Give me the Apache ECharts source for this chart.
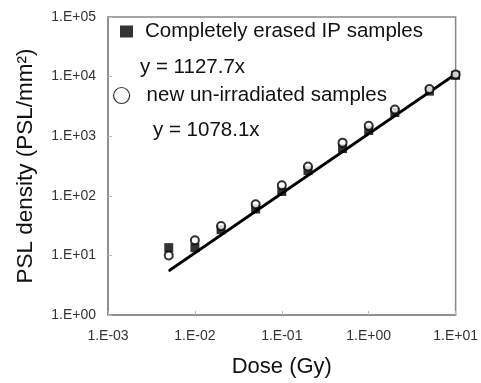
<!DOCTYPE html>
<html>
<head>
<meta charset="utf-8">
<script src="https://cdn.jsdelivr.net/npm/echarts@6/dist/echarts.min.js"></script>
<style>html,body{margin:0;padding:0;background:#fff;}#c{width:481px;height:383px;}</style>
</head>
<body>
<div id="c"></div>
<script>
const doses = [0.005, 0.01, 0.02, 0.05, 0.1, 0.2, 0.5, 1, 2, 5, 10];
const erasedPSL = [13.5, 13.5, 27, 60, 118, 265, 620, 1250, 2500, 5700, 10500];
const newPSL = [10, 18, 31, 72, 150, 310, 780, 1500, 2800, 6200, 10800];
const fitDose = [0.005, 10];
const fitErased = [5.64, 11277];
const fitNew = [5.39, 10781];
const nameErased = 'Completely erased IP samples';
const nameNew = 'new un-irradiated samples';
const eqErased = 'y = 1127.7x';
const eqNew = 'y = 1078.1x';
const xTitle = 'Dose (Gy)';
const yTitle = 'PSL density (PSL/mm²)';

function fmt(v) {
  const e = Math.round(Math.log10(v));
  return '1.E' + (e < 0 ? '-' : '+') + String(Math.abs(e)).padStart(2, '0');
}
const pair = (xs, ys) => xs.map((x, i) => [x, ys[i]]);
const FONT = '"Liberation Sans", Arial, sans-serif';

const chart = echarts.init(document.getElementById('c'), null, {renderer: 'canvas'});
chart.setOption({
  animation: false,
  backgroundColor: '#fff',
  grid: {left: 108, right: 22, top: 17, bottom: 65, show: true, borderColor: '#888', borderWidth: 1.5},
  xAxis: {
    type: 'log', logBase: 10, min: 0.001, max: 10,
    name: xTitle, nameLocation: 'middle', nameGap: 41,
    nameTextStyle: {fontSize: 22, fontFamily: FONT, color: '#111'},
    axisLine: {show: true, lineStyle: {color: '#888', width: 1.5}},
    axisTick: {show: true, inside: true, length: 4, lineStyle: {color: '#bbb'}},
    axisLabel: {formatter: fmt, fontSize: 14, fontFamily: FONT, color: '#333', margin: 14},
    splitLine: {show: false}, minorTick: {show: false}
  },
  yAxis: {
    type: 'log', logBase: 10, min: 1, max: 100000,
    name: yTitle, nameLocation: 'middle', nameGap: 71, nameRotate: 90,
    nameTextStyle: {fontSize: 22.5, fontFamily: FONT, color: '#111'},
    axisLine: {show: true, lineStyle: {color: '#888', width: 1.5}},
    axisTick: {show: true, inside: true, length: 4, lineStyle: {color: '#bbb'}},
    axisLabel: {formatter: fmt, fontSize: 14, fontFamily: FONT, color: '#333', margin: 12},
    splitLine: {show: false}, minorTick: {show: false}
  },
  legend: [
    {data: [nameErased], left: 120, top: 21, padding: 0, itemWidth: 13, itemHeight: 12,
     itemStyle: {color: '#000'},
     textStyle: {fontSize: 20.5, fontFamily: FONT, color: '#111', padding: [0, 0, 0, 7]}},
    {data: [nameNew], left: 113, top: 85, padding: 0, itemWidth: 16, itemHeight: 16,
     itemStyle: {color: '#fff', borderColor: '#000', borderWidth: 1.2},
     textStyle: {fontSize: 20.5, fontFamily: FONT, color: '#111', padding: [0, 0, 0, 12]}}
  ],
  graphic: [
    {type: 'text', left: 140, top: 57, style: {text: eqErased, fontSize: 20.5, fontFamily: FONT, fill: '#111'}},
    {type: 'text', left: 153, top: 120, style: {text: eqNew, fontSize: 20.5, fontFamily: FONT, fill: '#111'}}
  ],
  series: [
    {type: 'line', name: 'fitE', data: pair(fitDose, fitErased), symbol: 'none', lineStyle: {color: '#000', width: 2}, z: 2},
    {type: 'line', name: 'fitN', data: pair(fitDose, fitNew), symbol: 'none', lineStyle: {color: '#000', width: 2}, z: 2},
    {type: 'scatter', name: nameErased, data: pair(doses, erasedPSL), symbol: 'rect', symbolSize: 9,
     itemStyle: {color: '#000'}, z: 3},
    {type: 'scatter', name: nameNew, data: pair(doses, newPSL), symbol: 'circle', symbolSize: 8,
     itemStyle: {color: '#fff', borderColor: '#000', borderWidth: 2}, z: 4}
  ]
});
</script>
</body>
</html>
